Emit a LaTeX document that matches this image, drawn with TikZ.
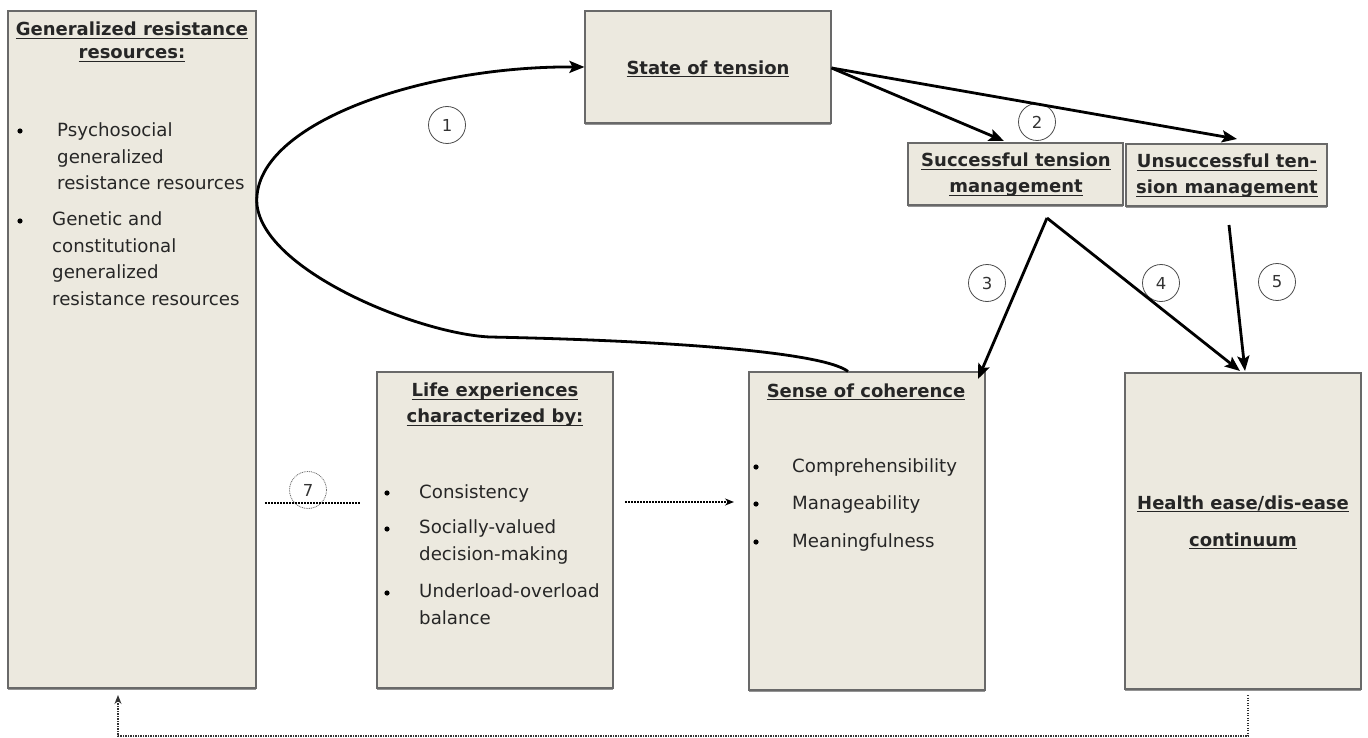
\documentclass[tikz,border=0pt]{standalone}
\usepackage{fontspec}
\setmainfont{DejaVu Sans}
\usetikzlibrary{arrows.meta,shadows}

\definecolor{boxfill}{RGB}{236,233,223}
\definecolor{boxline}{RGB}{105,105,105}

% underline close to the baseline, crossing descenders
\newcommand\myul[1]{\leavevmode\setbox0\hbox{#1}\rlap{\copy0}\rule[-2.8pt]{\wd0}{1.1pt}}

\tikzset{
  box/.style={draw=boxline, fill=boxfill, line width=1.1pt, inner sep=0pt,
    drop shadow={shadow xshift=0.4pt, shadow yshift=-1.8pt, fill=black!60, opacity=0.7}},
  title/.style={font=\bfseries\fontsize{18}{26}\selectfont, align=center, inner sep=0pt, text=black!85},
  item/.style={font=\fontsize{18.2}{26.5}\selectfont, anchor=base west, inner sep=0pt, text=black!85, align=left},
  bul/.style={circle, fill=black, inner sep=0pt, minimum size=5.2pt},
  num/.style={circle, draw=black!70, line width=0.8pt, minimum size=37pt, inner sep=0pt,
    font=\fontsize{16.5}{16.5}\selectfont, text=black!80},
  flow/.style={line width=2.8pt, -{Stealth[length=15pt,width=12pt,inset=3pt]}},
  dots/.style={line width=1.6pt, dash pattern=on 1.6pt off 1.4pt},
  fine dots/.style={line width=1.3pt, dash pattern=on 1.3pt off 1.2pt, draw=black!80}
}

\begin{document}
\begin{tikzpicture}[x=1pt,y=-1pt]
\useasboundingbox (0,0) rectangle (1368,738);

% boxes
\node[box, minimum width=248pt, minimum height=677pt] (grr) at (132,349.5) {};
\node[box, minimum width=246pt, minimum height=112pt] (tension) at (708,67) {};
\node[box, minimum width=215pt, minimum height=62pt] (succ) at (1015.5,174) {};
\node[box, minimum width=201pt, minimum height=62pt] (unsucc) at (1226.5,175) {};
\node[box, minimum width=236pt, minimum height=316pt] (life) at (495,530) {};
\node[box, minimum width=236pt, minimum height=318pt] (soc) at (867,531) {};
\node[box, minimum width=236pt, minimum height=316pt] (health) at (1243,531) {};

% generalized resistance resources
\node[title, font=\bfseries\fontsize{18}{23}\selectfont] (grrT) at (132,42) {\myul{Generalized resistance}\\\myul{resources:}};
\node[bul] (grrB1) at (20,131) {};
\node[item] (grrI1) at (57,190) {Psychosocial\\generalized\\resistance resources};
\node[bul] (grrB2) at (20,221) {};
\node[item] (grrI2) at (52,305) {Genetic and\\constitutional\\generalized\\resistance resources};

% state of tension
\node[title] (tensionT) at (708,69) {\myul{State of tension}};

% tension management
\node[title] (succT) at (1016,175) {\myul{Successful tension}\\\myul{management}};
\node[title] (unsuccT) at (1227,176) {\myul{Unsuccessful ten-}\\\myul{sion management}};

% life experiences
\node[title] (lifeT) at (495,405) {\myul{Life experiences}\\\myul{characterized by:}};
\node[bul] (lifeB1) at (387,493) {};
\node[item] (lifeI1) at (419,498) {Consistency};
\node[bul] (lifeB2) at (387,529) {};
\node[item] (lifeI2) at (419,560) {Socially-valued\\decision-making};
\node[bul] (lifeB3) at (387,593) {};
\node[item] (lifeI3) at (419,624) {Underload-overload\\balance};

% sense of coherence
\node[title] (socT) at (866,392) {\myul{Sense of coherence}};
\node[bul] (socB1) at (756,467) {};
\node[item] (socI1) at (792,472) {Comprehensibility};
\node[bul] (socB2) at (756,504) {};
\node[item] (socI2) at (792,509) {Manageability};
\node[bul] (socB3) at (756,542) {};
\node[item] (socI3) at (792,547) {Meaningfulness};

% health continuum
\node[title, font=\bfseries\fontsize{18}{37}\selectfont] (healthT) at (1243,522.5) {\myul{Health ease/dis-ease}\\\myul{continuum}};

% numbered markers
\node[num] (n1) at (447,125) {1};
\node[num] (n2) at (1037,122) {2};
\node[num] (n3) at (987,283) {3};
\node[num] (n4) at (1161,283) {4};
\node[num] (n5) at (1277,282) {5};
\node[num, draw=black!55, dash pattern=on 1pt off 0.8pt] (n7) at (308,490) {7};

% helper points for the connectors
\coordinate (socTop) at ([xshift=-19pt]soc.north);
\coordinate (fork) at (1047,218);
\coordinate (unsuccOut) at (1229,225);
\coordinate (leftEnd) at (265,503);
\coordinate (leftMid) at (360,503);
\coordinate (midStart) at (625,502);
\coordinate (midEnd) at (734,502);
\coordinate (hOut) at (1248,695);
\coordinate (fbR) at (1248,736);
\coordinate (fbL) at (118,736);
\coordinate (gIn) at (118,695);

% 1: sense of coherence back to state of tension
\draw[flow] (socTop) .. controls (820,350) and (640,340) .. (490,337)
  .. controls (420,334) and (265,272) .. (257,205)
  .. controls (250,125) and (420,66) .. (tension.west);

% 2: tension to management outcomes
\draw[flow] ([yshift=-1pt]tension.east) -- (1004,141);
\draw[flow] ([yshift=-1pt]tension.east) -- (1237,139);

% 3, 4, 5
\draw[flow] (fork) -- (978,379);
\draw[flow] (fork) -- (1240,371);
\draw[flow] (unsuccOut) -- (1245,371);

% 7: life experiences chain
\draw[dots] (leftEnd) -- (leftMid);
\draw[dots, -{Stealth[length=9pt,width=7pt]}] (midStart) -- (midEnd);

% feedback from health to resources
\draw[fine dots, -{Stealth[length=9pt,width=7pt]}] (hOut) -- (fbR) -- (fbL) -- (gIn);
\end{tikzpicture}
\end{document}
